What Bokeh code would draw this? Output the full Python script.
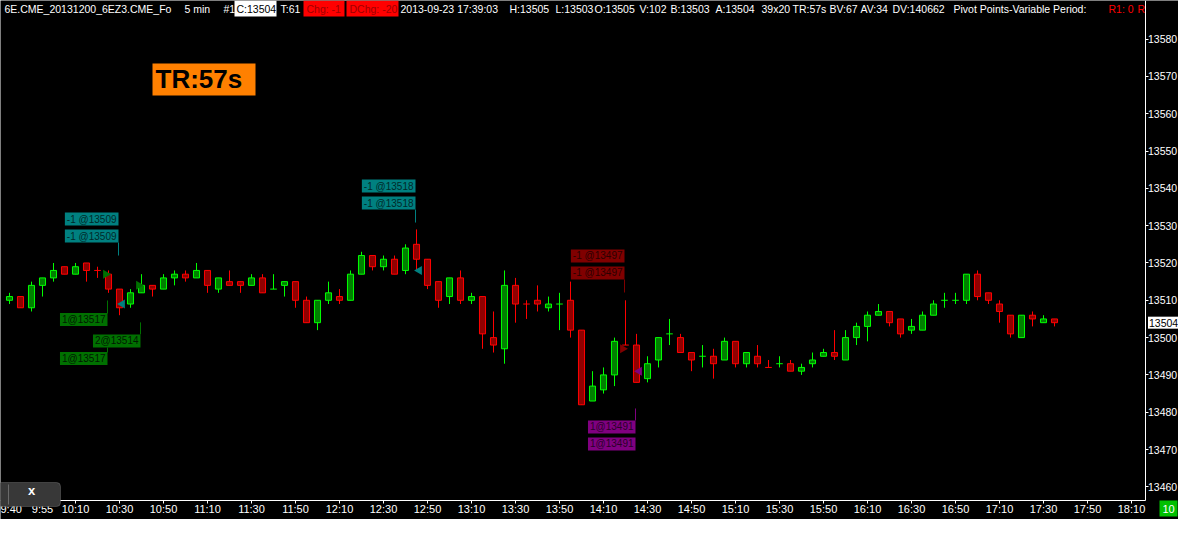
import math
import pandas as pd
from bokeh.plotting import figure
from bokeh.models import ColumnDataSource, FixedTicker, Label, BoxAnnotation, Range1d
from bokeh.embed import file_html
from bokeh.resources import INLINE

# ---------------- data ----------------
bar_times = list(pd.date_range("2013-09-23 09:40", periods=96, freq="5min").strftime("%H:%M"))

opens = [13510, 13511, 13508, 13514, 13516, 13519, 13517, 13520, 13518, 13517,
         13513, 13509, 13512, 13514, 13513, 13516, 13517, 13516, 13518, 13513,
         13515, 13515, 13514, 13516, 13513, 13514, 13515, 13510, 13504, 13510,
         13511, 13510, 13517, 13522, 13519, 13521, 13518, 13525, 13521, 13515,
         13511, 13516, 13510, 13511, 13500, 13497, 13514, 13509, 13510, 13508,
         13509, 13510, 13502, 13483, 13486, 13490, 13498, 13498, 13489, 13494,
         13501, 13500, 13496, 13495, 13495, 13494, 13499, 13493, 13495, 13492,
         13493, 13493, 13491, 13493, 13495, 13496, 13494, 13500, 13503, 13506,
         13507, 13505, 13502, 13502, 13506, 13510, 13510, 13510, 13517, 13512,
         13509, 13506, 13500, 13506, 13504, 13505]
highs = [13512, 13511, 13515, 13516, 13520, 13519, 13520, 13520, 13519, 13518,
         13513, 13513, 13517, 13514, 13517, 13518, 13518, 13520, 13518, 13516,
         13518, 13515, 13517, 13517, 13517, 13515, 13515, 13511, 13510, 13515,
         13513, 13518, 13523, 13522, 13522, 13522, 13525, 13529, 13521, 13515,
         13516, 13518, 13512, 13511, 13507, 13518, 13516, 13510, 13514, 13511,
         13512, 13515, 13502, 13491, 13492, 13500, 13510, 13501, 13495, 13500,
         13505, 13501, 13496, 13498, 13497, 13500, 13499, 13496, 13498, 13494,
         13495, 13494, 13493, 13496, 13497, 13502, 13502, 13504, 13507, 13509,
         13507, 13505, 13505, 13507, 13510, 13512, 13512, 13517, 13518, 13512,
         13510, 13506, 13506, 13507, 13506, 13505]
lows = [13509, 13508, 13507, 13511, 13515, 13517, 13517, 13515, 13516, 13512,
        13506, 13508, 13512, 13511, 13513, 13514, 13515, 13516, 13512, 13512,
        13514, 13512, 13514, 13512, 13513, 13511, 13508, 13504, 13502, 13509,
        13509, 13510, 13517, 13518, 13518, 13517, 13517, 13518, 13513, 13508,
        13509, 13509, 13509, 13497, 13496, 13493, 13504, 13505, 13507, 13507,
        13502, 13500, 13482, 13483, 13485, 13487, 13498, 13488, 13488, 13492,
        13498, 13496, 13491, 13492, 13489, 13494, 13492, 13492, 13492, 13492,
        13492, 13491, 13490, 13492, 13495, 13494, 13494, 13498, 13499, 13506,
        13503, 13500, 13501, 13502, 13506, 13508, 13509, 13509, 13510, 13509,
        13504, 13500, 13500, 13503, 13504, 13503]
closes = [13511, 13508, 13514, 13516, 13518, 13517, 13519, 13518, 13518, 13513,
          13508, 13512, 13514, 13513, 13516, 13517, 13516, 13518, 13514, 13516,
          13514, 13514, 13516, 13512, 13513, 13515, 13510, 13504, 13510, 13512,
          13510, 13517, 13522, 13519, 13521, 13517, 13524, 13521, 13514, 13510,
          13516, 13510, 13511, 13501, 13498, 13514, 13509, 13509, 13509, 13509,
          13509, 13502, 13482, 13487, 13490, 13499, 13498, 13488, 13493, 13500,
          13501, 13496, 13494, 13495, 13493, 13499, 13493, 13496, 13493, 13492,
          13493, 13491, 13492, 13494, 13496, 13495, 13500, 13503, 13506, 13507,
          13504, 13501, 13503, 13506, 13509, 13510, 13510, 13517, 13511, 13510,
          13507, 13501, 13506, 13505, 13505, 13504]
# bars whose open == close but were drawn as up (green) bars
green_dojis = ["11:40", "13:50", "14:40", "14:55", "15:30", "16:45", "16:50"]

x_tick_labels = ["9:40", "9:55", "10:10", "10:30", "10:50", "11:10", "11:30", "11:50",
                 "12:10", "12:30", "12:50", "13:10", "13:30", "13:50", "14:10", "14:30",
                 "14:50", "15:10", "15:30", "15:50", "16:10", "16:30", "16:50", "17:10",
                 "17:30", "17:50", "18:10"]
y_ticks = [13460, 13470, 13480, 13490, 13500, 13510, 13520, 13530, 13540, 13550,
           13560, 13570, 13580]
last_price = 13504

trade_times = ["10:25", "10:30", "10:40", "12:45", "14:20", "14:25"]
trade_qty = [1, -1, 2, -1, -1, 1]
trade_price = [13517, 13509, 13514, 13518, 13497, 13491]

header_parts = ["6E.CME_20131200_6EZ3.CME_Fo", "5 min", "#1", "C:13504", "T:61",
                "Chg: -1", "DChg: -20", "2013-09-23 17:39:03", "H:13505", "L:13503",
                "O:13505", "V:102", "B:13503", "A:13504", "39x20", "TR:57s", "BV:67",
                "AV:34", "DV:140662", "Pivot Points-Variable Period:", "R1: 0", "R"]
timer_text = "TR:57s"
zoom_level = "10"

# ---------------- layout helpers (the frame fills the whole canvas) ----------------
W, H = 1178, 519
PPX = 11.0      # pixels per bar
PPY = 3.731     # pixels per price tick
X0 = -9 / PPX
X1 = X0 + W / PPX
Y1 = 13500 + 337.1 / PPY
Y0 = Y1 - H / PPY
AXIS_X = 1144.5   # right price axis line (canvas px)
AXIS_Y = 499.5    # bottom time axis line (canvas px)


def t2i(t):
    h, m = map(int, t.split(":"))
    return (h * 60 + m - (9 * 60 + 40)) / 5.0


def sy(y):          # canvas y (top-down) -> screen units (bottom-up)
    return H - y


def box(l, r, t, b, **kw):
    return BoxAnnotation(left=l, right=r, top=sy(t), bottom=sy(b), left_units="screen",
                         right_units="screen", top_units="screen", bottom_units="screen",
                         fill_alpha=1, **kw)


FONT = "Liberation Sans"

p = figure(width=W, height=H, x_range=Range1d(X0, X1), y_range=Range1d(Y0, Y1),
           output_backend="svg", toolbar_location=None, y_axis_location="right",
           min_border=0, min_border_left=0, min_border_top=0, min_border_right=0,
           min_border_bottom=0, background_fill_color="black", border_fill_color="black",
           outline_line_color=None)
p.grid.visible = False

# axes, pinned at fixed locations inside the black area
xt = [t2i(t) for t in x_tick_labels]
p.xaxis.ticker = FixedTicker(ticks=xt)
p.xaxis.major_label_overrides = {v: lab for v, lab in zip(xt, x_tick_labels)}
p.yaxis.ticker = FixedTicker(ticks=y_ticks)
x_axis_price = Y1 - AXIS_Y / PPY
y_axis_bar = X0 + AXIS_X / PPX
p.xaxis.fixed_location = x_axis_price
p.yaxis.fixed_location = y_axis_bar
p.xaxis.bounds = (X0, y_axis_bar)
p.yaxis.bounds = (x_axis_price, Y1)
for ax in (p.xaxis, p.yaxis):
    ax.axis_line_color = "white"
    ax.major_tick_line_color = "white"
    ax.minor_tick_line_color = None
    ax.major_tick_in = 0
    ax.major_tick_out = 3
    ax.major_label_text_color = "white"
    ax.major_label_text_font = FONT
p.xaxis.major_label_text_font_size = "11px"
p.yaxis.major_label_text_font_size = "10.5px"
p.xaxis.major_label_standoff = 0
p.yaxis.major_label_standoff = 0

# ---------------- candles ----------------
idx = [t2i(t) for t in bar_times]
bull = [(c > o) or (c == o and t in green_dojis) for o, c, t in zip(opens, closes, bar_times)]
line_col = ["#00ff00" if b else "#ff0000" for b in bull]
fill_col = ["#008000" if b else "#900000" for b in bull]

src = ColumnDataSource(dict(x=idx, o=opens, h=highs, l=lows, c=closes,
                            top=[max(o, c) for o, c in zip(opens, closes)],
                            bottom=[min(o, c) for o, c in zip(opens, closes)],
                            line=line_col, fill=fill_col))
p.segment(x0="x", y0="l", x1="x", y1="h", line_color="line", line_width=1, source=src)

body = [k for k in range(len(opens)) if opens[k] != closes[k]]
doji = [k for k in range(len(opens)) if opens[k] == closes[k]]
bsrc = ColumnDataSource({key: [src.data[key][k] for k in body] for key in src.data})
dsrc = ColumnDataSource({key: [src.data[key][k] for k in doji] for key in src.data})
dsrc.data["xl"] = [x - 0.3 for x in dsrc.data["x"]]
dsrc.data["xr"] = [x + 0.3 for x in dsrc.data["x"]]
p.vbar(x="x", width=0.55, top="top", bottom="bottom", fill_color="fill",
       line_color="line", line_width=1, source=bsrc)
p.segment(x0="xl", y0="o", x1="xr", y1="o", line_color="line", line_width=1, source=dsrc)

# ---------------- trades ----------------
# style per trade: colour, marker direction, label offsets (px from fill price), connectors
trade_style = [
    dict(col="#007000", txt="#001a00", right=True, labels=[45.3, 84.3], conn=[(26.3, 39.3), (73.3, 78.3)]),
    dict(col="#008080", txt="#002a2a", right=False, labels=[-85.0, -68.0], conn=[(-61.5, -48.5)]),
    dict(col="#007000", txt="#001a00", right=True, labels=[55.6], conn=[(37.0, 49.0)]),
    dict(col="#008080", txt="#002a2a", right=False, labels=[-84.4, -67.4], conn=[(-60.9, -47.9)]),
    dict(col="#800000", txt="#2a0000", right=True, labels=[-92.8, -75.8], conn=[(-69.3, -56.3)]),
    dict(col="#800080", txt="#2a002a", right=False, labels=[55.8, 72.8], conn=[(37.3, 49.3)]),
]
for t, q, pr, st in zip(trade_times, trade_qty, trade_price, trade_style):
    xi = t2i(t)
    text = (f"{q} @{pr}" if q < 0 else f"{q}@{pr}")
    for dy in st["labels"]:
        p.add_layout(Label(x=xi - 1 / PPX, y=pr - dy / PPY, text=text, text_align="right",
                           text_baseline="middle", text_font=FONT, text_font_size="10px",
                           text_color=st["txt"], background_fill_color=st["col"],
                           padding=dict(left=2, right=2, top=1, bottom=1)))
    for a, b in st["conn"]:
        p.segment(x0=[xi - 1 / PPX], x1=[xi - 1 / PPX], y0=[pr - a / PPY], y1=[pr - b / PPY],
                  line_color=st["col"], line_width=1)
    if st["right"]:
        p.scatter(x=[xi - 2.8 / PPX], y=[pr], marker="triangle", angle=-math.pi / 2, size=9,
                  fill_color=st["col"], line_color=None)
    else:
        p.scatter(x=[xi + 2.8 / PPX], y=[pr], marker="triangle", angle=math.pi / 2, size=9,
                  fill_color=st["col"], line_color=None)

# ---------------- header ----------------
hx = [4, 184, 223, 236, 280, 306, 349, 400, 509, 555, 594, 639, 670, 715, 761, 792, 829,
      860, 892, 953, 1108, 1137]
hstyle = {3: "black", 5: "#a00000", 6: "#a00000", 20: "#ff0000", 21: "#ff0000"}
p.add_layout(box(234, 276, 0, 16, fill_color="white", line_color=None))
p.add_layout(box(303, 344, 0, 16, fill_color="#ff0000", line_color=None))
p.add_layout(box(346, 398, 0, 16, fill_color="#ff0000", line_color=None))
for k, (txt, xr) in enumerate(zip(header_parts, hx)):
    p.add_layout(Label(x=xr, y=sy(8), x_units="screen", y_units="screen", text=txt,
                       text_font=FONT, text_font_size="10.5px", text_color=hstyle.get(k, "white"),
                       text_baseline="middle", text_align="left"))

# timer box
p.add_layout(box(152, 255, 63, 95, fill_color="#ff8000", line_color=None))
p.add_layout(Label(x=155, y=sy(78.5), x_units="screen", y_units="screen", text=timer_text,
                   text_font=FONT, text_font_size="26px", text_font_style="bold",
                   text_color="black", text_baseline="middle", text_align="left"))

# current price marker on the price axis
p.add_layout(Label(x=AXIS_X + 3, y=last_price, x_units="screen", y_units="data",
                   text=str(last_price), text_font=FONT, text_font_size="10.5px",
                   text_color="black", text_baseline="middle", text_align="left",
                   background_fill_color="white", padding=dict(left=1, right=1, top=2, bottom=2)))

# close button
p.add_layout(box(-3, 60, 482, 506, fill_color="#383838", line_color="#9a9a9a",
                 line_width=1, border_radius=4))
p.add_layout(box(7.5, 8.5, 484, 504, fill_color="#6a6a6a", line_color=None))
p.add_layout(Label(x=31, y=sy(490), x_units="screen", y_units="screen", text="x",
                   text_font=FONT, text_font_size="13px", text_font_style="bold",
                   text_color="white", text_baseline="middle", text_align="center"))

# zoom level box
p.add_layout(box(1159, 1177, 500, 516, fill_color="#00c000", line_color=None))
p.add_layout(Label(x=1168, y=sy(508), x_units="screen", y_units="screen", text=zoom_level,
                   text_font=FONT, text_font_size="11px", text_color="white",
                   text_baseline="middle", text_align="center"))

open("out.html", "w").write(file_html(p, INLINE))
